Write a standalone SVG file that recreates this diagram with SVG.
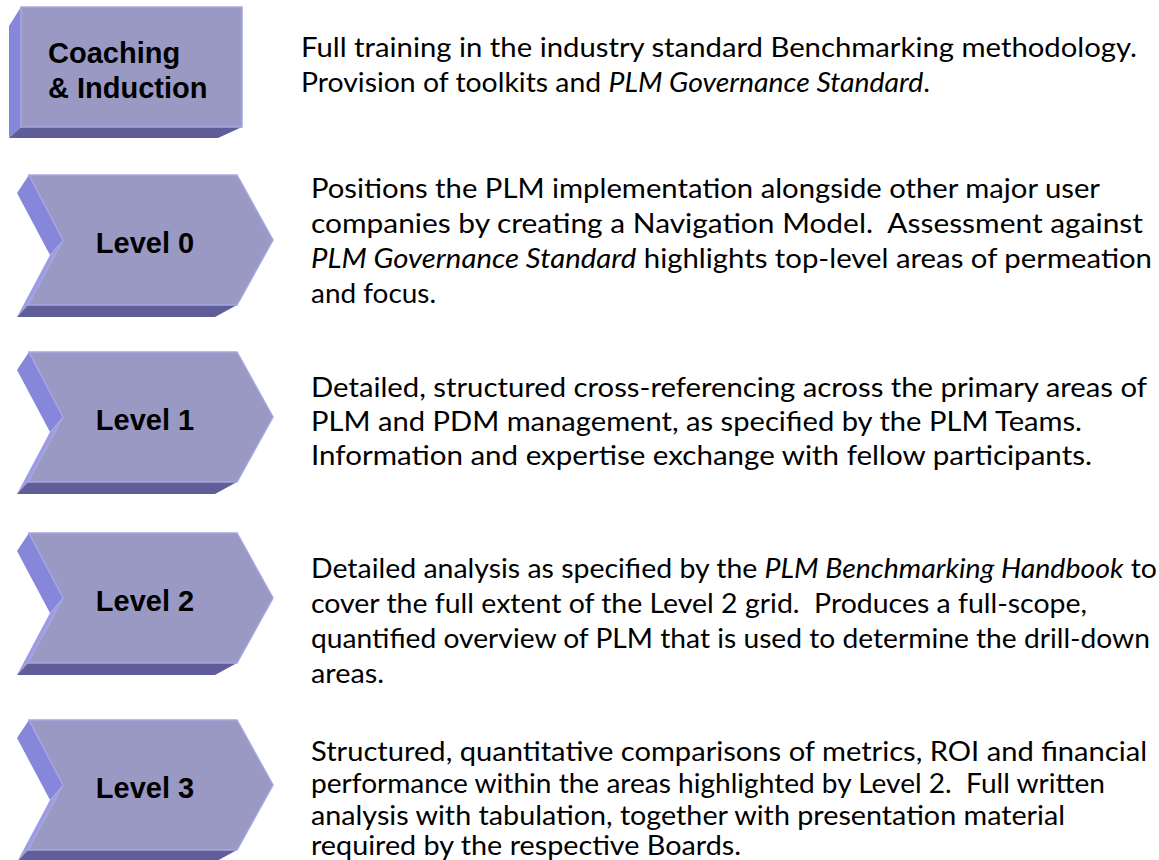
<svg xmlns="http://www.w3.org/2000/svg" width="1159" height="860" viewBox="0 0 1159 860">
<style>
.front{fill:#9A99C4;stroke:#A6A6E2;stroke-width:1.5}
.left{fill:#8686DA}
.lower{fill:#9C9CE4}
.bottom{fill:#5F5E98}
.lbl{font-family:"Liberation Sans",Arial,sans-serif;font-weight:bold;font-size:29px;fill:#000}
.desc{font-family:Lato,"Open Sans",sans-serif;font-size:27px;fill:#000}
.it{font-style:italic}
</style>
<defs>
<g id="chev">
<polygon class="left" points="29,-65 17,-47 50,15 63,0"/>
<polygon class="lower" points="63,0 50,15 17,77 28,65"/>
<polygon class="bottom" points="28,65 17,77 215,77 237,65"/>
<polygon class="front" points="29,-65 237,-65 273,0 237,65 28,65 63,0"/>
</g>
</defs>
<rect width="1159" height="860" fill="#fff"/>
<g id="node-coaching">
<polygon class="left" points="21,7 9,26 9,138 21,127"/>
<polygon class="bottom" points="21,127 9,138 218,138 242,127"/>
<rect class="front" x="21" y="7" width="221" height="120"/>
<text class="lbl" x="48" y="63">Coaching</text>
<text class="lbl" x="48" y="98">&amp; Induction</text>
<text class="desc" x="301" y="57" textLength="836" lengthAdjust="spacingAndGlyphs">Full training in the industry standard Benchmarking methodology.</text>
<text class="desc" x="301" y="92" textLength="629" lengthAdjust="spacingAndGlyphs">Provision of toolkits and <tspan class="it">PLM Governance Standard</tspan>.</text>
</g>
<g id="node-level0">
<use href="#chev" transform="translate(0,240)"/>
<text class="lbl" x="145" y="253" text-anchor="middle">Level 0</text>
<text class="desc" x="311" y="198" textLength="789" lengthAdjust="spacingAndGlyphs">Positions the PLM implementation alongside other major user</text>
<text class="desc" x="311" y="233" textLength="832" lengthAdjust="spacingAndGlyphs">companies by creating a Navigation Model.&#160; Assessment against</text>
<text class="desc" x="311" y="268" textLength="841" lengthAdjust="spacingAndGlyphs"><tspan class="it">PLM Governance Standard</tspan> highlights top-level areas of permeation</text>
<text class="desc" x="311" y="303" textLength="125" lengthAdjust="spacingAndGlyphs">and focus.</text>
</g>
<g id="node-level1">
<use href="#chev" transform="translate(0,417)"/>
<text class="lbl" x="145" y="430" text-anchor="middle">Level 1</text>
<text class="desc" x="311" y="397" textLength="836" lengthAdjust="spacingAndGlyphs">Detailed, structured cross-referencing across the primary areas of</text>
<text class="desc" x="311" y="431" textLength="771" lengthAdjust="spacingAndGlyphs">PLM and PDM management, as specified by the PLM Teams.</text>
<text class="desc" x="311" y="465" textLength="781" lengthAdjust="spacingAndGlyphs">Information and expertise exchange with fellow participants.</text>
</g>
<g id="node-level2">
<use href="#chev" transform="translate(0,598)"/>
<text class="lbl" x="145" y="611" text-anchor="middle">Level 2</text>
<text class="desc" x="311" y="578" textLength="846" lengthAdjust="spacingAndGlyphs">Detailed analysis as specified by the <tspan class="it">PLM Benchmarking Handbook</tspan> to</text>
<text class="desc" x="311" y="613" textLength="776" lengthAdjust="spacingAndGlyphs">cover the full extent of the Level 2 grid.&#160; Produces a full-scope,</text>
<text class="desc" x="311" y="648" textLength="839" lengthAdjust="spacingAndGlyphs">quantified overview of PLM that is used to determine the drill-down</text>
<text class="desc" x="311" y="683" textLength="73" lengthAdjust="spacingAndGlyphs">areas.</text>
</g>
<g id="node-level3">
<use href="#chev" transform="translate(0,785)"/>
<text class="lbl" x="145" y="798" text-anchor="middle">Level 3</text>
<text class="desc" x="311" y="761" textLength="836" lengthAdjust="spacingAndGlyphs">Structured, quantitative comparisons of metrics, ROI and financial</text>
<text class="desc" x="311" y="793" textLength="794" lengthAdjust="spacingAndGlyphs">performance within the areas highlighted by Level 2.&#160; Full written</text>
<text class="desc" x="311" y="825" textLength="754" lengthAdjust="spacingAndGlyphs">analysis with tabulation, together with presentation material</text>
<text class="desc" x="311" y="855" textLength="430" lengthAdjust="spacingAndGlyphs">required by the respective Boards.</text>
</g>
<g id="connectors"/>
</svg>
